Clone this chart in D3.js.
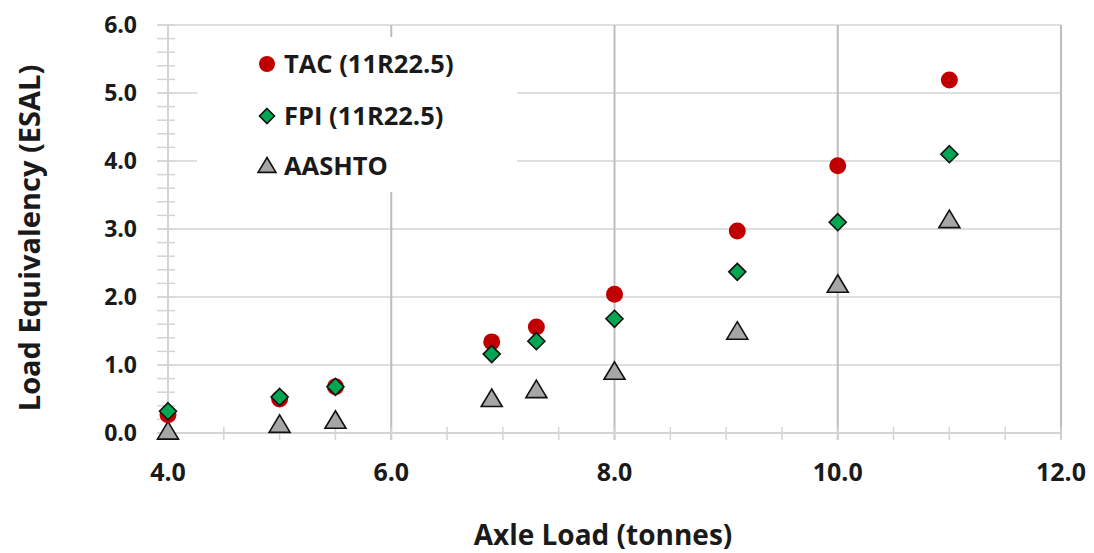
<!DOCTYPE html>
<html>
<head>
<meta charset="utf-8">
<script src="https://cdn.jsdelivr.net/npm/d3@7"></script>
<style>
  html, body { margin: 0; padding: 0; background: #fff; }
  svg { display: block; }
  text { font-family: "Open Sans", "Noto Sans", sans-serif; font-weight: bold; fill: #1a1a1a; }
</style>
</head>
<body>
<svg id="chart" width="1094" height="553"></svg>
<script>
// Axle loads (tonnes)
const axleLoads = [4.0, 5.0, 5.5, 6.9, 7.3, 8.0, 9.1, 10.0, 11.0];
// Load equivalency (ESAL) per method
const tacValues    = [0.27, 0.50, 0.68, 1.34, 1.56, 2.04, 2.97, 3.93, 5.19];
const fpiValues    = [0.32, 0.53, 0.68, 1.16, 1.35, 1.68, 2.37, 3.10, 4.10];
const aashtoValues = [0.02, 0.12, 0.18, 0.50, 0.63, 0.90, 1.49, 2.18, 3.13];

const seriesNames = ["TAC (11R22.5)", "FPI (11R22.5)", "AASHTO"];
const xTicks = [4, 6, 8, 10, 12];
const yTicks = [0, 1, 2, 3, 4, 5, 6];

const svg = d3.select("#chart");
const plot = { left: 168, right: 1061, top: 25, bottom: 433 };

const x = d3.scaleLinear().domain([4, 12]).range([plot.left, plot.right]);
const y = d3.scaleLinear().domain([0, 6]).range([plot.bottom, plot.top]);

const gridColor = "#d4d4d4";
const vGridColor = "#bdbdbd";

// Horizontal gridlines (every 1.0)
svg.append("g").selectAll("line").data(yTicks.slice(1)).join("line")
  .attr("x1", plot.left - 11).attr("x2", plot.right)
  .attr("y1", d => y(d)).attr("y2", d => y(d))
  .attr("stroke", gridColor).attr("stroke-width", 1.5);

// Vertical gridlines (every 2.0)
svg.append("g").selectAll("line").data(xTicks.slice(1)).join("line")
  .attr("x1", d => x(d)).attr("x2", d => x(d))
  .attr("y1", plot.top).attr("y2", plot.bottom + 7)
  .attr("stroke", vGridColor).attr("stroke-width", 2);

// Y axis line with minor ticks every 0.2
svg.append("line")
  .attr("x1", plot.left).attr("x2", plot.left)
  .attr("y1", plot.top).attr("y2", plot.bottom + 7)
  .attr("stroke", gridColor).attr("stroke-width", 2);
const yMinor = d3.range(0, 6.001, 0.2);
svg.append("g").selectAll("line").data(yMinor).join("line")
  .attr("x1", plot.left - 11).attr("x2", plot.left + 7)
  .attr("y1", d => y(d)).attr("y2", d => y(d))
  .attr("stroke", gridColor).attr("stroke-width", 1.5);

// X axis line with minor ticks every 0.5
svg.append("line")
  .attr("x1", plot.left - 11).attr("x2", plot.right)
  .attr("y1", plot.bottom).attr("y2", plot.bottom)
  .attr("stroke", gridColor).attr("stroke-width", 2);
const xMinor = d3.range(4, 12.001, 0.5);
svg.append("g").selectAll("line").data(xMinor).join("line")
  .attr("x1", d => x(d)).attr("x2", d => x(d))
  .attr("y1", plot.bottom - 6).attr("y2", plot.bottom + 7)
  .attr("stroke", gridColor).attr("stroke-width", 1.5);

// Tick labels
svg.append("g").selectAll("text").data(yTicks).join("text")
  .attr("x", 137).attr("y", d => y(d))
  .attr("dy", "0.36em").attr("text-anchor", "end")
  .attr("font-size", 23)
  .text(d => d3.format(".1f")(d));

svg.append("g").selectAll("text").data(xTicks).join("text")
  .attr("x", d => x(d)).attr("y", 481)
  .attr("text-anchor", "middle")
  .attr("font-size", 25)
  .text(d => d3.format(".1f")(d));

// Axis titles
svg.append("text")
  .attr("x", 603).attr("y", 545)
  .attr("text-anchor", "middle").attr("font-size", 28)
  .text("Axle Load (tonnes)");

svg.append("text")
  .attr("transform", "translate(40,238) rotate(-90)")
  .attr("text-anchor", "middle").attr("font-size", 29)
  .text("Load Equivalency (ESAL)");

// Legend backdrop (hides gridlines behind the key)
svg.append("rect")
  .attr("x", 197).attr("y", 37).attr("width", 320).attr("height", 155)
  .attr("fill", "#fff");

// Marker shapes
const circleSym = d3.symbol().type(d3.symbolCircle).size(Math.PI * 8.5 * 8.5);
const diamondPath = r => `M0,${-r}L${r},0L0,${r}L${-r},0Z`;
const trianglePath = r => `M0,${-r}L${r * 1.05},${r * 0.75}L${-r * 1.05},${r * 0.75}Z`;

const markerStyles = [
  { draw: g => g.append("path").attr("d", circleSym()).attr("fill", "#c00000") },
  { draw: g => g.append("path").attr("d", diamondPath(8.5)).attr("fill", "#00a651").attr("stroke", "#111").attr("stroke-width", 1.6) },
  { draw: g => g.append("path").attr("d", trianglePath(10)).attr("fill", "#a6a6a6").attr("stroke", "#111").attr("stroke-width", 1.6) }
];

const seriesValues = [tacValues, fpiValues, aashtoValues];

// Draw order: AASHTO, TAC, then FPI on top
[2, 0, 1].forEach(si => {
  const g = svg.append("g");
  axleLoads.forEach((a, i) => {
    const m = g.append("g").attr("transform", `translate(${x(a)},${y(seriesValues[si][i])})`);
    markerStyles[si].draw(m);
  });
});

// Legend
const legendY = [64, 116, 166];
seriesNames.forEach((name, i) => {
  const m = svg.append("g").attr("transform", `translate(267,${legendY[i]})`);
  if (i === 0) m.append("path").attr("d", d3.symbol().type(d3.symbolCircle).size(Math.PI * 8 * 8)()).attr("fill", "#c00000");
  if (i === 1) m.append("path").attr("d", diamondPath(7.5)).attr("fill", "#00a651").attr("stroke", "#111").attr("stroke-width", 1.6);
  if (i === 2) m.append("path").attr("d", trianglePath(8.5)).attr("fill", "#a6a6a6").attr("stroke", "#111").attr("stroke-width", 1.6);
  svg.append("text")
    .attr("x", 284).attr("y", legendY[i]).attr("dy", "0.36em")
    .attr("font-size", 25.5)
    .text(name);
});
</script>
</body>
</html>
